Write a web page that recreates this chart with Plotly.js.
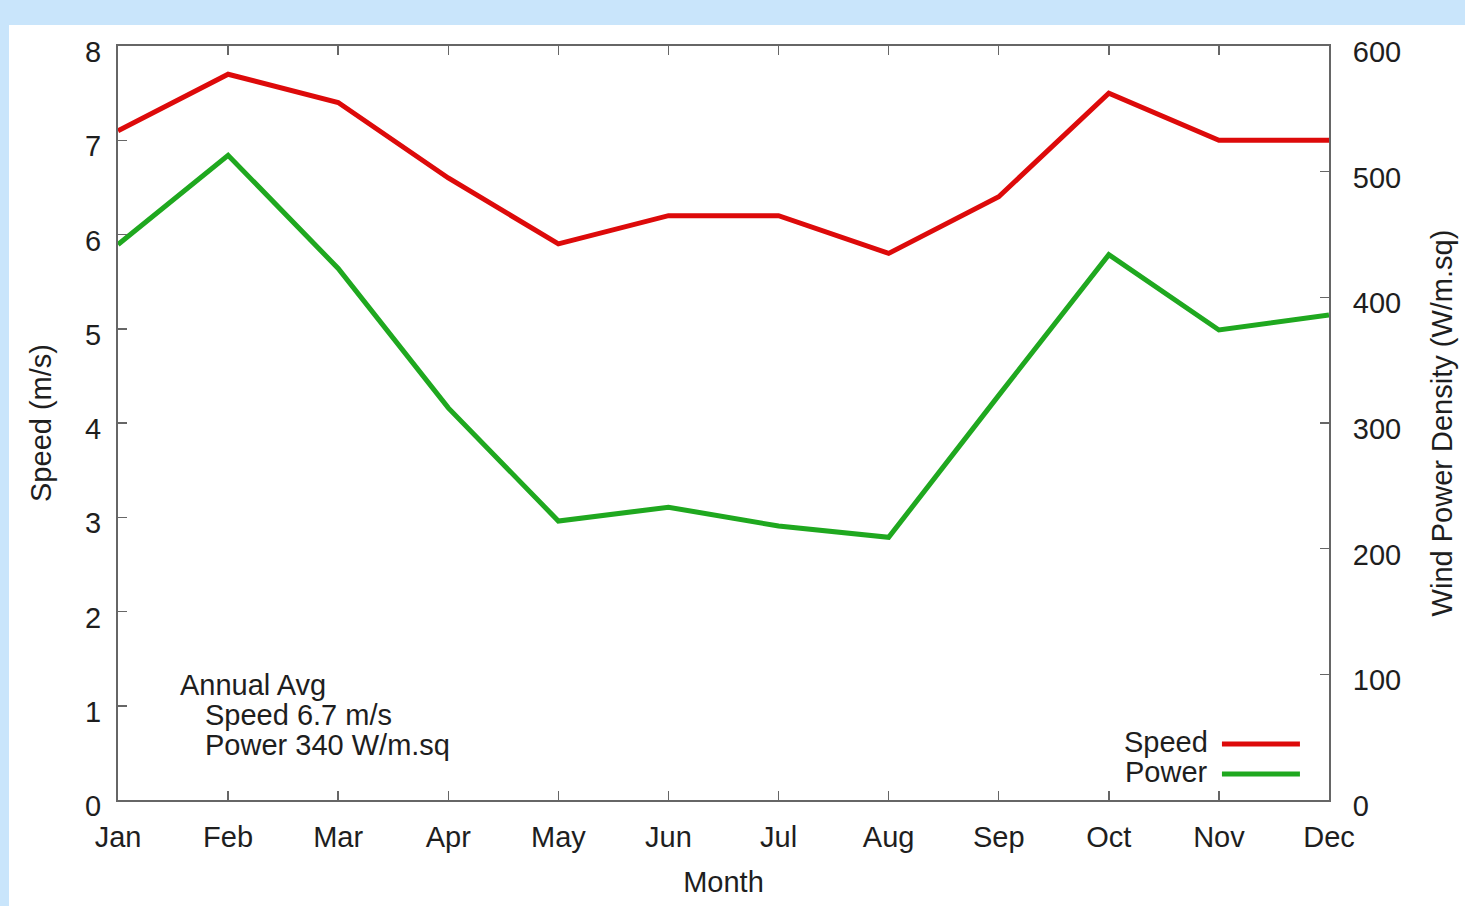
<!DOCTYPE html>
<html>
<head>
<meta charset="utf-8">
<script src="https://cdn.plot.ly/plotly-3.0.1.min.js"></script>
<style>
html,body{margin:0;padding:0;background:#c9e5fb;width:1465px;height:906px;overflow:hidden;}
#chart{position:absolute;left:9px;top:25px;width:1456px;height:881px;background:#fff;}
</style>
</head>
<body>
<div id="chart"></div>
<script>
const months = ["Jan","Feb","Mar","Apr","May","Jun","Jul","Aug","Sep","Oct","Nov","Dec"];
const speed = [7.1, 7.7, 7.4, 6.6, 5.9, 6.2, 6.2, 5.8, 6.4, 7.5, 7.0, 7.0];
const power = [442, 513, 423, 312, 222, 233, 218, 209, 322, 434, 374, 386];
const seriesNames = ["Speed", "Power"];
const seriesColors = ["#dd0a0a", "#1fa81f"];
const annualText = ["Annual Avg", "Speed 6.7 m/s", "Power 340 W/m.sq"];

const FONT = "Liberation Sans, Arial, Helvetica, sans-serif";
const TXT = "#1e1e1e";
const FS = 29;

const traces = [
  {x: months.map((m,i)=>i), y: speed, name: seriesNames[0], type: "scatter", mode: "lines",
   line: {color: seriesColors[0], width: 5}, yaxis: "y", showlegend: false},
  {x: months.map((m,i)=>i), y: power, name: seriesNames[1], type: "scatter", mode: "lines",
   line: {color: seriesColors[1], width: 5}, yaxis: "y2", showlegend: false}
];

const annotations = [
  {xref:"paper", yref:"paper", x:0.0495, y:0.1525, text: annualText[0], xanchor:"left", yanchor:"middle", showarrow:false, font:{family:FONT,size:FS,color:TXT}},
  {xref:"paper", yref:"paper", x:0.0702, y:0.1127, text: annualText[1], xanchor:"left", yanchor:"middle", showarrow:false, font:{family:FONT,size:FS,color:TXT}},
  {xref:"paper", yref:"paper", x:0.0702, y:0.0729, text: annualText[2], xanchor:"left", yanchor:"middle", showarrow:false, font:{family:FONT,size:FS,color:TXT}},
  {xref:"paper", yref:"paper", x:0.9017, y:0.0775, text: seriesNames[0], xanchor:"right", yanchor:"middle", showarrow:false, font:{family:FONT,size:FS,color:TXT}},
  {xref:"paper", yref:"paper", x:0.9017, y:0.0375, text: seriesNames[1], xanchor:"right", yanchor:"middle", showarrow:false, font:{family:FONT,size:FS,color:TXT}}
];
const shapes = [
  {type:"line", xref:"paper", yref:"paper", x0:0.9116, x1:0.976, y0:0.0743, y1:0.0743, line:{color:seriesColors[0], width:5}},
  {type:"line", xref:"paper", yref:"paper", x0:0.9116, x1:0.976, y0:0.0345, y1:0.0345, line:{color:seriesColors[1], width:5}}
];

const layout = {
  width: 1456, height: 881,
  margin: {l:109, r:136, t:21, b:106, pad:0},
  paper_bgcolor: "#ffffff", plot_bgcolor: "#ffffff",
  font: {family: FONT, size: FS, color: TXT},
  showlegend: false,
  xaxis: {
    range: [0, 11], tickmode: "array", tickvals: months.map((m,i)=>i), ticktext: months,
    ticks: "inside", ticklen: 9, tickcolor: "#666", tickwidth: 1.5,
    showline: true, linecolor: "#666", linewidth: 2, mirror: "ticks",
    showgrid: false, zeroline: false, ticklabelstandoff: 10,
    title: {text: "Month", font: {family: FONT, size: FS, color: TXT}, standoff: 20}
  },
  yaxis: {
    range: [0, 8], dtick: 1, ticks: "inside", ticklen: 9, tickcolor: "#666", tickwidth: 1.5,
    showline: true, linecolor: "#666", linewidth: 2, mirror: true,
    showgrid: false, zeroline: false, ticklabelstandoff: 9, ticklabelshift: 6,
    title: {text: "Speed (m/s)", font: {family: FONT, size: FS, color: TXT}, standoff: 25}
  },
  yaxis2: {
    range: [0, 600], dtick: 100, overlaying: "y", side: "right",
    ticks: "inside", ticklen: 9, tickcolor: "#666", tickwidth: 1.5,
    showline: true, linecolor: "#666", linewidth: 2,
    showgrid: false, zeroline: false, ticklabelstandoff: 16, ticklabelshift: 6,
    title: {text: "Wind Power Density (W/m.sq)", font: {family: FONT, size: FS, color: TXT}, standoff: 32}
  },
  annotations: annotations,
  shapes: shapes
};

Plotly.newPlot("chart", traces, layout, {displayModeBar: false, staticPlot: true});
</script>
</body>
</html>
